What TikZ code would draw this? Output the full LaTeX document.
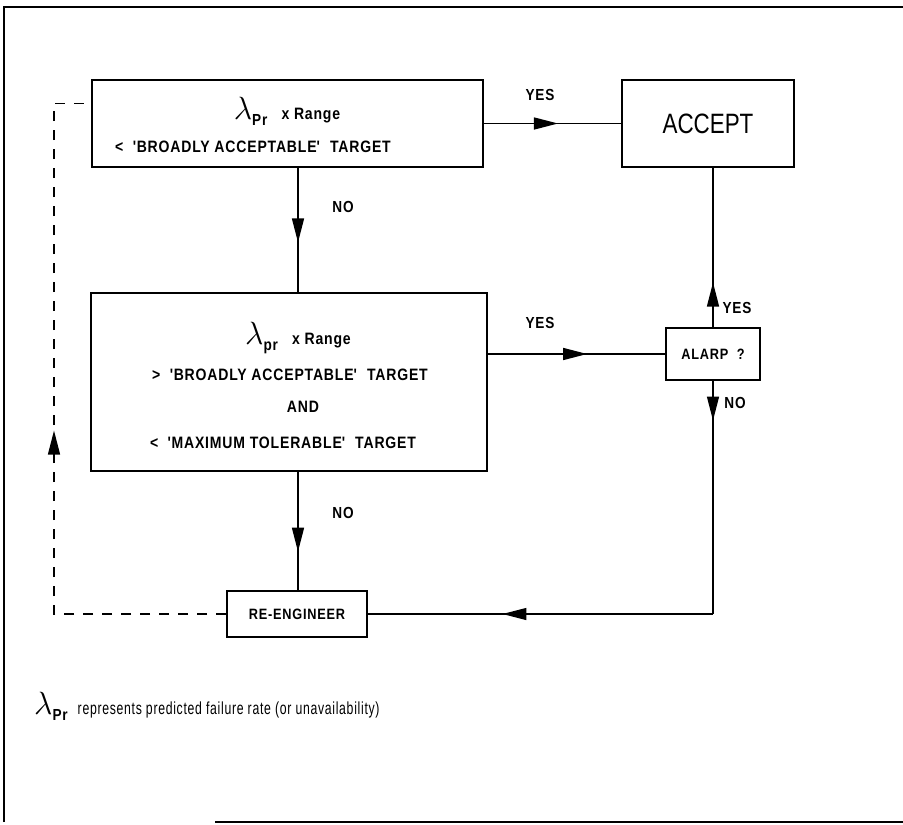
\documentclass[tikz,border=0pt]{standalone}
\usepackage{fontspec}
\setmainfont{Liberation Sans}
\newfontfamily\pf{Liberation Sans}[FakeStretch=0.85, LetterSpace=5]
\newfontfamily\pfn{Liberation Sans}[FakeStretch=0.7, LetterSpace=4]
\newfontfamily\pfa{Liberation Sans}[FakeStretch=0.8]
\usetikzlibrary{arrows.meta,decorations.markings,calc}
\tikzset{
  boxed/.style={draw, line width=1.8pt, rectangle, inner sep=0pt},
  conn/.style={line width=1.4pt},
  midarr/.style={postaction={decorate}, decoration={markings,
      mark=at position #1 with {\arrow{Triangle[length=24pt,width=12pt]}}}},
  lbl/.style={font=\pf\fontsize{16}{16}\selectfont\bfseries, inner sep=0pt},
  txt/.style={font=\pf\fontsize{16.5}{16.5}\selectfont\bfseries, inner sep=0pt},
  frame/.style={line width=2pt}
}
\newcommand{\lamb}[1]{\scalebox{1.55}{\fontsize{20.74}{20.74}\selectfont$\lambda$}\raisebox{-6pt}{\pf\fontsize{16}{16}\selectfont\bfseries #1}}
\newcommand{\sq}{\textquotesingle}
\begin{document}
\begin{tikzpicture}[x=1pt,y=-1pt]
\useasboundingbox (0,0) rectangle (903,825);
% frame
\draw[frame] (4,822) -- (4,7) -- (903,7);
\draw[frame] (215,822) -- (903,822);

% boxes
\node[boxed, minimum width=391pt, minimum height=87pt] (b1) at (287.5,123.5) {};
\node[boxed, minimum width=172pt, minimum height=87pt] (acc) at (708,123.5)
  {\pfa\fontsize{28}{28}\selectfont ACCEPT};
\node[boxed, minimum width=94pt, minimum height=52pt] (alarp) at (713,354)
  {\pf\fontsize{15}{15}\selectfont\bfseries ALARP\ \ ?};
\node[boxed, minimum width=396pt, minimum height=178pt] (b2) at (289,382) {};
\node[boxed, minimum width=140pt, minimum height=46pt] (re) at (297,614)
  {\pf\fontsize{15}{15}\selectfont\bfseries RE-ENGINEER};

% box texts
\node[txt] (t1a) at (287,111) {\lamb{Pr}\ \ \ x Range};
\node[txt, anchor=west] (t1b) at (115,147) {<\ \ \sq BROADLY ACCEPTABLE\sq\ \ TARGET};
\node[txt] (t2a) at (298,338) {\lamb{pr}\ \ \ x Range};
\node[txt] (t2b) at (290,375) {>\ \ \sq BROADLY ACCEPTABLE\sq\ \ TARGET};
\node[txt] (t2c) at (303,407) {AND};
\node[txt] (t2d) at (283,443) {<\ \ \sq MAXIMUM TOLERABLE\sq\ \ TARGET};

% labels
\node[lbl] (y1) at (540,95) {YES};
\node[lbl] (y2) at (540,323) {YES};
\node[lbl] (n1) at (343,207) {NO};
\node[lbl] (n2) at (343,513) {NO};
\node[lbl] (y3) at (737,308) {YES};
\node[lbl] (n3) at (735,403) {NO};

% connectors
\coordinate (cx) at (298,0);
\draw[conn, midarr=0.54] (b1.east) -- (acc.west);
\draw[conn, midarr=0.6] (b1.south -| cx) -- (b2.north -| cx);
\draw[conn, midarr=0.675] (b2.south -| cx) -- (re.north -| cx);
\draw[conn, midarr=0.56] (b2.east |- alarp.west) -- (alarp.west);
\draw[conn, midarr=0.28] (alarp.north) -- (acc.south -| alarp.north);
\coordinate (cr) at (alarp.south |- re.east);
\draw[conn, midarr=0.17] (alarp.south) -- (cr);
\draw[conn, midarr=0.61] (cr) -- (re.east);
\coordinate (dx) at (54,0);
\coordinate (b1in) at ($(b1.west)+(0,-20)$);
\draw[conn, dash pattern=on 10pt off 9pt, midarr=0.494]
  (re.west) -- (re.west -| dx) -- (b1in -| dx) -- (b1in);

% footnote
\node[anchor=west, inner sep=0pt] (fn) at (34,706)
  {\lamb{Pr}\hspace{10pt}{\pfn\fontsize{17.5}{17.5}\selectfont represents predicted failure rate (or unavailability)}};
\end{tikzpicture}
\end{document}
